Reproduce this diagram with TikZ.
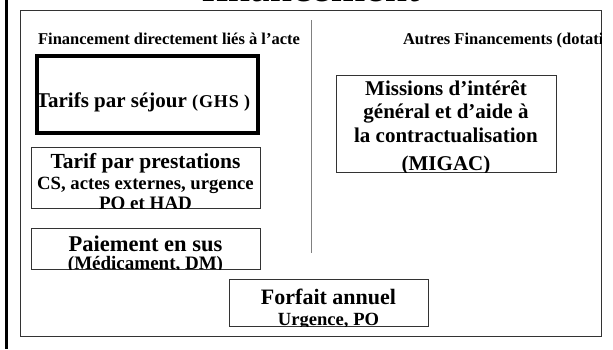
\documentclass[tikz,border=0pt]{standalone}
\usepackage{fontspec}
\setmainfont{Liberation Serif}
\usetikzlibrary{positioning}
\definecolor{ink}{HTML}{000000}
\definecolor{frameGray}{HTML}{333333}
\definecolor{ruleGray}{HTML}{808080}
\tikzset{
  base/.style={text=ink, inner sep=0pt, outer sep=0pt},
  title/.style={base, font=\fontsize{44}{48}\selectfont, anchor=base},
  head/.style={base, font=\bfseries\fontsize{16.5}{19}\selectfont, anchor=base},
  bigtext/.style={base, font=\bfseries\fontsize{21}{24}\selectfont, anchor=base},
  smalltext/.style={base, font=\bfseries\fontsize{19}{22}\selectfont, anchor=base},
  box/.style={draw=frameGray, line width=0.8pt, anchor=north west, inner sep=0pt},
  thickbox/.style={box, draw=ink, line width=4pt},
  divider/.style={draw=ruleGray, line width=0.9pt},
}

\begin{document}
\begin{tikzpicture}[x=1pt,y=-1pt]
  \useasboundingbox (0,0) rectangle (613,349);
  \clip (0,0) rectangle (613,349);

  \node[title] (ttl) at (310.5,1) {financement};
  \fill[ink] (5,0) rectangle (7.5,349);

  % outer frame and the split between the two columns
  \node[box, minimum width=581pt, minimum height=326pt] (frame) at (20,9.5) {};
  \coordinate (divtop) at (311,20);
  \coordinate (divbot) at (311,253);
  \draw[divider] (divtop) -- (divbot);

  \node[head] (leftHead) at (169,44) {Financement directement liés à l’acte};
  \begin{scope}
    \clip (frame.north west) rectangle (frame.south east);
    \node[head, anchor=base west] (rightHead) at (403,44) {Autres Financements (dotations)};
  \end{scope}

  % left column
  \node[thickbox, minimum width=221pt, minimum height=77pt] (sejour) at (34.7,54) {};
  \node[bigtext, anchor=base west] (sejourT) at (36,107) {Tarifs par séjour {\fontsize{18}{21}\selectfont\addfontfeature{LetterSpace=5}(GHS )}};

  \node[box, minimum width=229pt, minimum height=61pt] (prest) at (31,147) {};
  \begin{scope}
    \clip (prest.north west) rectangle (prest.south east);
    \node[bigtext, font=\bfseries\fontsize{21.5}{24}\selectfont] (prestA) at (145.5,168) {Tarif par prestations};
    \node[smalltext, font=\bfseries\fontsize{18.7}{22}\selectfont] (prestB) at (145.5,189) {CS, actes externes, urgence};
    \node[smalltext] (prestC) at (145.5,209.5) {PO et HAD};
  \end{scope}

  \node[box, minimum width=229pt, minimum height=41pt] (sus) at (31,228) {};
  \begin{scope}
    \clip (sus.north west) rectangle (sus.south east);
    \node[bigtext, font=\bfseries\fontsize{22.5}{24}\selectfont] (susA) at (145.5,251) {Paiement en sus};
    \node[smalltext] (susB) at (145.5,269.5) {(Médicament, DM)};
  \end{scope}

  % right column
  \node[box, minimum width=220pt, minimum height=97pt] (migac) at (336,75) {};
  \begin{scope}
    \clip (migac.north west) rectangle (migac.south east);
    \node[bigtext] (migacA) at (446,95) {Missions d’intérêt};
    \node[bigtext] (migacB) at (446,118) {général et d’aide à};
    \node[bigtext] (migacC) at (446,142) {la contractualisation};
    \node[bigtext] (migacD) at (446,170.5) {(MIGAC)};
  \end{scope}

  \node[box, minimum width=199pt, minimum height=47pt] (forfait) at (229,279) {};
  \begin{scope}
    \clip (forfait.north west) rectangle (forfait.south east);
    \node[bigtext, font=\bfseries\fontsize{22}{24}\selectfont] (forfaitA) at (328.5,304) {Forfait annuel};
    \node[smalltext, font=\bfseries\fontsize{18.6}{22}\selectfont] (forfaitB) at (328.5,325.5) {Urgence, PO};
  \end{scope}
\end{tikzpicture}
\end{document}
